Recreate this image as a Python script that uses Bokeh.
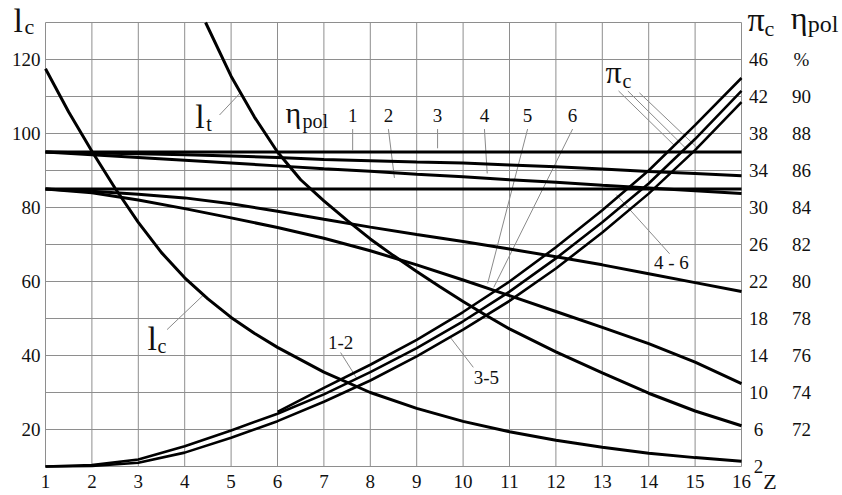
from bokeh.plotting import figure
from bokeh.models import Range1d
from bokeh.core.properties import value
from bokeh.embed import file_html
from bokeh.resources import INLINE

# ---------------- data ----------------
Z = [1, 2, 3, 4, 5, 6, 7, 8, 9, 10, 11, 12, 13, 14, 15, 16]

# polytropic efficiency, %  (right scale "eta")
eta_1 = [87.0, 87.0, 87.0, 87.0, 87.0, 87.0, 87.0, 87.0, 87.0, 87.0, 87.0, 87.0, 87.0, 87.0, 87.0, 87.0]
eta_2 = [87.0, 86.95, 86.9, 86.85, 86.78, 86.7, 86.6, 86.53, 86.46, 86.4, 86.3, 86.2, 86.08, 85.95, 85.84, 85.72]
eta_3 = [87.0, 86.85, 86.7, 86.55, 86.4, 86.25, 86.1, 85.96, 85.8, 85.66, 85.5, 85.36, 85.2, 85.06, 84.9, 84.76]
eta_4 = [85.0, 85.0, 85.0, 85.0, 85.0, 85.0, 85.0, 85.0, 85.0, 85.0, 85.0, 85.0, 85.0, 85.0, 85.0, 85.0]
eta_5 = [85.0, 84.88, 84.72, 84.52, 84.2, 83.8, 83.36, 82.94, 82.54, 82.16, 81.76, 81.34, 80.9, 80.42, 79.94, 79.46]
eta_6 = [85.0, 84.8, 84.4, 83.94, 83.44, 82.92, 82.34, 81.66, 80.9, 80.08, 79.24, 78.38, 77.52, 76.64, 75.64, 74.48]

# pressure ratio (right scale "pi")
pi_b = [2.0, 2.15, 2.75, 4.2, 5.9, 7.7, 9.8, 12.2, 14.8, 17.7, 20.9, 24.5, 28.4, 32.6, 37.4, 42.6]
pi_c = [2.0, 2.05, 2.4, 3.5, 5.1, 6.9, 9.0, 11.3, 13.9, 16.8, 19.9, 23.4, 27.3, 31.5, 36.2, 41.4]
Z_a = [6, 7, 8, 9, 10, 11, 12, 13, 14, 15, 16]
pi_a = [7.9, 10.5, 13.0, 15.7, 18.7, 22.0, 25.7, 29.7, 34.0, 38.9, 44.0]

# lengths (left scale)
Z_lc = [1, 1.5, 2, 2.5, 3, 3.5, 4, 4.5, 5, 5.5, 6, 7, 8, 9, 10, 11, 12, 13, 14, 15, 16]
l_c = [117.5, 105.8, 95.2, 85.2, 76.0, 67.8, 61.0, 55.3, 50.3, 46.0, 42.2, 35.5, 30.0, 25.7,
       22.2, 19.4, 17.1, 15.2, 13.6, 12.4, 11.4]
Z_lt = [4.45, 5, 5.5, 6, 6.5, 7, 7.5, 8, 8.5, 9, 9.5, 10, 10.5, 11, 12, 13, 14, 15, 16]
l_t = [130, 115.5, 104.5, 95, 87.5, 81.8, 76.5, 71.5, 67, 62.7, 58.6, 54.6, 50.8, 47.2,
       41, 35.3, 29.8, 25, 21]

# axes extents and ticks
Z_MIN, Z_MAX = 1, 16
L_MIN, L_MAX = 10, 130
PI_MIN, PI_MAX = 2, 50
ETA_MIN, ETA_MAX = 70, 94
x_ticks = [1, 2, 3, 4, 5, 6, 7, 8, 9, 10, 11, 12, 13, 14, 15, 16]
x_tick_labels = ["1", "2", "3", "4", "5", "6", "7", "8", "9", "10", "11", "12", "13", "14", "15", "16"]
l_ticks = [20, 40, 60, 80, 100, 120]
l_tick_labels = ["20", "40", "60", "80", "100", "120"]
l_grid = [10, 20, 30, 40, 50, 60, 70, 80, 90, 100, 110, 120, 130]
pi_ticks = [2, 6, 10, 14, 18, 22, 26, 30, 34, 38, 42, 46]
pi_tick_labels = ["2", "6", "10", "14", "18", "22", "26", "30", "34", "38", "42", "46"]
eta_ticks = [72, 74, 76, 78, 80, 82, 84, 86, 88, 90, 92]
eta_tick_labels = ["72", "74", "76", "78", "80", "82", "84", "86", "88", "90", "%"]

# leader lines (x0, l0, x1, l1) in left-scale units
ld_x0 = [4.75, 3.62, 7.62, 8.39, 9.45, 10.46, 11.39, 12.36, 14.45, 7.36, 10.22, 13.35, 13.55, 13.8]
ld_y0 = [105.0, 47.0, 101.2, 101.2, 101.2, 101.2, 101.2, 101.2, 67.5, 40.8, 36.8, 111.5, 111.5, 111.0]
ld_x1 = [5.2, 4.4, 7.62, 8.52, 9.45, 10.52, 10.53, 10.66, 13.3, 7.7, 9.73, 14.55, 14.8, 15.05]
ld_y1 = [111.0, 56.3, 95.5, 88.0, 96.0, 89.2, 59.5, 58.4, 83.5, 34.0, 44.8, 96.8, 96.0, 96.1]

num_labels = ["1", "2", "3", "4", "5", "6"]
num_x = [7.62, 8.39, 9.45, 10.46, 11.39, 12.36]

FONT = "Liberation Serif"
INK = "#111111"
GRID = "#8e8e8e"

# canvas geometry: plot region 696 x 444 px, margins around it for the scales
W_PX, H_PX = 842, 495
PAD_L, PAD_R, PAD_T, PAD_B = 45, 101, 22, 29
FW, FH = W_PX - PAD_L - PAD_R, H_PX - PAD_T - PAD_B


def padded(lo, hi, pad_lo, pad_hi, span):
    k = (hi - lo) / span
    return Range1d(lo - pad_lo * k, hi + pad_hi * k)


p = figure(width=W_PX, height=H_PX,
           x_range=padded(Z_MIN, Z_MAX, PAD_L, PAD_R, FW),
           y_range=padded(L_MIN, L_MAX, PAD_B, PAD_T, FH),
           output_backend="svg", toolbar_location=None,
           x_axis_location=None, y_axis_location=None,
           min_border=0, min_border_left=0, min_border_right=0, min_border_top=0, min_border_bottom=0)
p.extra_y_ranges = {"pi": padded(PI_MIN, PI_MAX, PAD_B, PAD_T, FH),
                    "eta": padded(ETA_MIN, ETA_MAX, PAD_B, PAD_T, FH)}
p.grid.visible = False
p.outline_line_color = None
p.background_fill_color = "white"
p.border_fill_color = "white"

# grid (drawn from the tick lists)
p.segment(x0=x_ticks, y0=[L_MIN] * len(x_ticks), x1=x_ticks, y1=[L_MAX] * len(x_ticks),
          line_color=GRID, line_width=1)
p.segment(x0=[Z_MIN] * len(l_grid), y0=l_grid, x1=[Z_MAX] * len(l_grid), y1=l_grid,
          line_color=GRID, line_width=1)

# tick labels
TS = value("19px")
p.text(x=x_ticks, y=[L_MIN] * len(x_ticks), text=x_tick_labels, text_font=value(FONT),
       text_font_size=TS, text_align="center", text_baseline="top", y_offset=8, text_color=INK)
p.text(x=[Z_MIN] * len(l_ticks), y=l_ticks, text=l_tick_labels, text_font=value(FONT),
       text_font_size=TS, text_align="right", text_baseline="middle", x_offset=-5, text_color=INK)
p.text(x=[Z_MAX] * len(pi_ticks), y=pi_ticks, text=pi_tick_labels, y_range_name="pi",
       text_font=value(FONT), text_font_size=TS, text_align="center", text_baseline="middle",
       x_offset=17, text_color=INK)
p.text(x=[Z_MAX] * len(eta_ticks), y=eta_ticks, text=eta_tick_labels, y_range_name="eta",
       text_font=value(FONT), text_font_size=TS, text_align="center", text_baseline="middle",
       x_offset=60, text_color=INK)

# leaders
p.segment(ld_x0, ld_y0, ld_x1, ld_y1, line_color="#8a8a8a", line_width=1)

# curves
W = 3
for e in [eta_1, eta_2, eta_3, eta_4, eta_5, eta_6]:
    p.line(Z, e, y_range_name="eta", line_color="black", line_width=W)
p.line(Z_lc, l_c, line_color="black", line_width=W)
p.line(Z_lt, l_t, line_color="black", line_width=W)
p.line(Z, pi_b, y_range_name="pi", line_color="black", line_width=2.6)
p.line(Z, pi_c, y_range_name="pi", line_color="black", line_width=2.6)
p.line(Z_a, pi_a, y_range_name="pi", line_color="black", line_width=2.6)


def lab(x, y, text, size, xo=0, yo=0, align="left"):
    # y is the text baseline (left scale); yo moves the text up by yo px
    p.text(x=[x], y=[y], text=[text], text_font=value(FONT), text_font_size=value(f"{size}px"),
           text_align=align, text_baseline="middle", x_offset=xo,
           y_offset=-0.34 * size - yo, text_color=INK)


# scale titles
lab(0.31, 127.3, "l", 34)
lab(0.31, 127.3, "c", 22, xo=11, yo=-1)
lab(16.13, 127.8, "π", 34)
lab(16.13, 127.8, "c", 22, xo=17, yo=-5)
lab(17.06, 128.4, "η", 32)
lab(17.06, 128.4, "pol", 24, xo=17, yo=-4)
lab(16.47, 2.97, "Z", 22, yo=4)

# in-plot labels
lab(4.23, 101.6, "l", 34)
lab(4.23, 101.6, "t", 20, xo=11, yo=-3)
lab(6.17, 103.0, "η", 30)
lab(6.17, 103.0, "pol", 20, xo=17, yo=-5)
for t, x in zip(num_labels, num_x):
    lab(x, 103.0, t, 19, align="center")
lab(3.2, 41.4, "l", 34)
lab(3.2, 41.4, "c", 20, xo=10, yo=-2)
lab(7.36, 41.9, "1-2", 19, align="center")
lab(10.5, 32.4, "3-5", 19, align="center")
lab(14.49, 63.5, "4 - 6", 19, align="center")
lab(13.07, 113.8, "π", 32)
lab(13.07, 113.8, "c", 20, xo=17, yo=-5)

open("out.html", "w").write(file_html(p, INLINE))
